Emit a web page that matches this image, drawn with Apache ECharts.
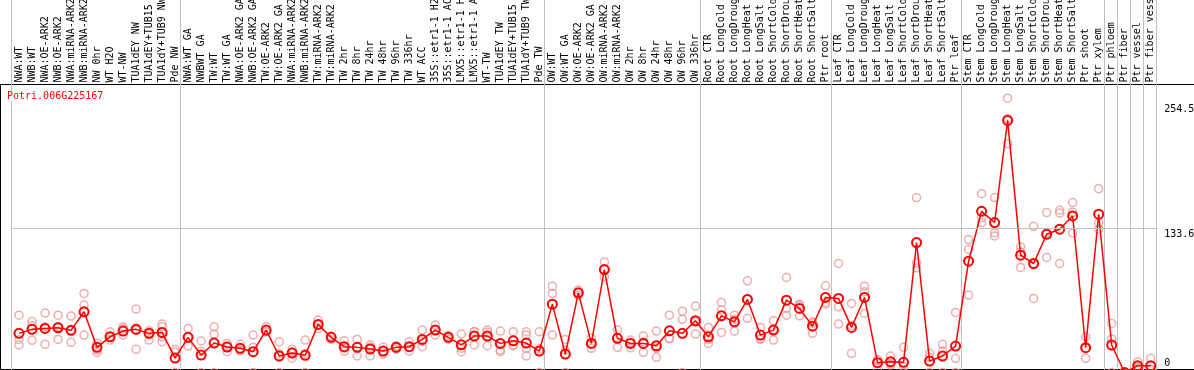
<!DOCTYPE html>
<html><head><meta charset="utf-8">
<script src="https://cdn.jsdelivr.net/npm/echarts@6/dist/echarts.min.js"></script>
<style>html,body{margin:0;padding:0;background:#fff}#c{width:1194px;height:370px}</style>
</head><body><div id="c"></div>
<script>
const chartTitle = 'Potri.006G225167';

const categories = [
  'NWA:WT','NWB:WT','NWA:OE-ARK2','NWB:OE-ARK2','NWA:miRNA-ARK2','NWB:miRNA-ARK2','NW 0hr','WT H2O','WT-NW',
  'TUA1dEY NW','TUA1dEY+TUB15 NW','TUA1dY+TUB9 NW','Pde NW',
  'NWA:WT GA','NWBWT GA','TW:WT','TW:WT GA','NWA:OE-ARK2 GA','NWB:OE-ARK2 GA','TW:OE-ARK2','TW:OE-ARK2 GA',
  'NWA:miRNA-ARK2 GA','NWB:miRNA-ARK2 GA','TW:miRNA-ARK2','TW:miRNA-ARK2 GA',
  'TW 2hr','TW 8hr','TW 24hr','TW 48hr','TW 96hr','TW 336hr','WT ACC',
  '35S::etr1-1 H2O','35S::etr1-1 ACC','LMX5::etr1-1 H2O','LMX5::etr1-1 ACC','WT-TW',
  'TUA1dEY TW','TUA1dEY+TUB15 TW','TUA1dY+TUB9 TW','Pde TW',
  'OW:WT','OW:WT GA','OW:OE-ARK2','OW:OE-ARK2 GA','OW:miRNA-ARK2','OW:miRNA-ARK2 GA',
  'OW 2hr','OW 8hr','OW 24hr','OW 48hr','OW 96hr','OW 336hr',
  'Root CTR','Root LongCold','Root LongDrought','Root LongHeat','Root LongSalt',
  'Root ShortCold','Root ShortDrought','Root ShortHeat','Root ShortSalt','Ptr root',
  'Leaf CTR','Leaf LongCold','Leaf LongDrought','Leaf LongHeat','Leaf LongSalt',
  'Leaf ShortCold','Leaf ShortDrought','Leaf ShortHeat','Leaf ShortSalt','Ptr leaf',
  'Stem CTR','Stem LongCold','Stem LongDrought','Stem LongHeat','Stem LongSalt',
  'Stem ShortCold','Stem ShortDrought','Stem ShortHeat','Stem ShortSalt','Ptr shoot','Ptr xylem',
  'Ptr phloem','Ptr fiber','Ptr vessel','Ptr fiber vessel'
];

// number of categories in each experiment group (separated by grey lines)
const groupSizes = [13, 28, 12, 10, 10, 11, 1, 1, 1, 1];

const meanValues = [
  36.4, 40.1, 41.0, 41.6, 39.2, 56.4, 23.4, 33.2, 38.5, 40.1, 36.4, 37.3, 13.5,
  32.7, 16.3, 27.4, 23.7, 22.5, 19.4, 39.4, 15.4, 18.1, 16.0, 44.7, 32.7, 24.0, 23.4, 21.9, 20.0, 23.4, 24.0, 30.8,
  39.4, 32.7, 25.8, 33.9, 33.9, 27.1, 29.5, 27.4, 20.0,
  63.5, 17.2, 74.0, 27.1, 95.6, 31.8, 27.1, 27.1, 24.9, 38.8, 36.4, 48.1,
  33.2, 52.7, 47.1, 67.9, 34.8, 39.4, 67.2, 59.5, 43.1, 69.7,
  68.8, 41.9, 69.7, 9.2, 10.1, 9.5, 120.6, 10.7, 15.4, 24.6,
  103.3, 149.6, 139.2, 233.9, 108.9, 101.2, 128.3, 133.0, 145.3, 23.1, 146.9,
  25.6, 0, 6.4, 6.4
];

const replicates = [
  [53.3,30.8,25.6],[47.5,43.4,29.9],[55.2,42.5,26.2],[53.3,42.5,30.8],[52.4,39.0,28.1],[73.4,62.6,34.8],
  [27.1,20.9,18.4],[37.9,33.0,30.2],[42.5,40.6,34.8],[58.9,39.4,21.6],[38.8,35.5,30.2],[45.0,42.5,33.2,28.6],
  [0,19.0,21.5],
  [41.0,32.7,24.6],[29.3,19.5,0],[42.5,35.7,0],[27.1,24.6,19.4],[26.2,20.4,20.9],[34.8,23.4,0],
  [42.5,37.9,37.8],[28.6,17.6,0],[21.6,19.4,13.3],[30.2,17.8,0],[48.7,44.4,41.0],[33.9,33.4,30.8],
  [29.5,22.5,20.0],[30.8,24.0,15.4],[25.6,23.4,15.4],[23.4,19.4,17.2],[25.0,23.4,21.8],[28.6,23.4,20.0],
  [39.4,29.0,24.0],[44.1,39.3,34.8],[34.5,32.7,31.0],[35.7,22.5,19.4],[37.9,38.2,25.6],[39.4,37.4,24.9],
  [38.5,20.9,19.4],[37.9,25.6,25.0],[37.9,34.8,22.5,15.4],[37.9,22.1,0],
  [80.2,73.4,34.8],[30.8,20.8,0],[76.5,74.0,71.5],[31.8,27.0,22.5],[102.7,95.3,88.8],[39.4,32.6,23.4],
  [30.2,28.0,23.1],[33.9,28.6,18.8],[38.5,22.5,14.2],[53.3,31.8,31.3],[57.0,49.4,0],[61.7,46.9,35.7],
  [41.9,30.6,27.1],[65.1,58.0,37.3],[53.3,49.5,38.5],[85.1,68.3,50.3],[41.9,31.8,30.7],[48.1,39.9,30.2],
  [88.2,59.5,53.3],[63.5,62.3,52.7],[47.1,45.8,36.4],[80.5,65.1,63.5],
  [101.2,61.0,45.0],[64.2,43.6,17.9],[80.2,74.9,54.9],[11.7,11.9,4.0],[15.4,7.9,7.0],[23.4,5.1,0],
  [162.3,101.8,97.1],[17.9,14.2,0],[26.2,20.0,0],[55.8,13.2,0],
  [123.4,114.2,71.9],[166.0,143.8,139.2],[162.3,129.5,126.8],[254.5,235.5,212.3],[116.6,111.9,97.5],
  [135.7,100.3,68.8],[148.4,129.7,106.8],[150.6,148.1,101.2],[157.7,148.7,129.5],[33.2,22.9,13.2],
  [170.6,138.8,133.0],
  [45.6,31.2,0],[0,0,0],[10.1,5.0,4.1],[13.2,3.0,3.0]
];

const dataMax = 254.5;
const yMid = 133.6;
const yMax = dataMax * 1.05;
const yLabelTop = [yMid, dataMax];
const yLabelBottom = [0];

const boundaries = [0];
groupSizes.reduce((acc, n) => { acc += n; boundaries.push(acc); return acc; }, 0);

const repPoints = [];
replicates.forEach((arr, i) => arr.forEach(v => repPoints.push([i, v])));

const FONT = '"DejaVu Sans Mono", "Liberation Mono", monospace';
const chart = echarts.init(document.getElementById('c'), null, {renderer: 'canvas'});
chart.setOption({
  animation: false,
  backgroundColor: '#fff',
  title: {
    text: chartTitle, left: 6, top: 91, padding: [0, 1, 0, 1], z: 10,
    backgroundColor: '#fff',
    textStyle: {color: '#ff0000', fontFamily: FONT, fontSize: 10, fontWeight: 'normal'}
  },
  grid: [
    {left: 12.5, right: 36.8, top: 84.5, bottom: -2.6, containLabel: false, outerBoundsMode: 'none'},
    {left: 0.5, right: -2, top: 84.5, bottom: 0.5, show: true, borderColor: '#000', borderWidth: 1, backgroundColor: 'transparent', z: 0, outerBoundsMode: 'none'}
  ],
  xAxis: [
    {
      type: 'category', data: categories, position: 'top', gridIndex: 0,
      boundaryGap: true,
      axisLine: {show: false}, axisTick: {show: false}, splitLine: {show: false},
      axisLabel: {interval: 0, rotate: 90, align: 'left', verticalAlign: 'middle', margin: 2, color: '#000', fontFamily: FONT, fontSize: 10, hideOverlap: false}
    },
    {type: 'value', gridIndex: 1, show: false}
  ],
  yAxis: [
    {
      type: 'value', min: 0, max: yMax, position: 'right', gridIndex: 0,
      axisLine: {show: false}, axisTick: {show: false}, splitLine: {show: false},
      axisLabel: {
        customValues: yLabelTop, margin: 7, verticalAlign: 'top', color: '#000', fontFamily: FONT, fontSize: 10,
        formatter: v => v === dataMax ? '{m|' + v + '}' : '{n|' + v + '}',
        rich: {m: {padding: [6.5, 0, 0, 0], fontFamily: FONT, fontSize: 10, color: '#000'}, n: {padding: [0.5, 0, 0, 0], fontFamily: FONT, fontSize: 10, color: '#000'}}
      }
    },
    {
      type: 'value', min: 0, max: yMax, position: 'right', gridIndex: 0,
      axisLine: {show: false}, axisTick: {show: false}, splitLine: {show: false},
      axisLabel: {
        customValues: yLabelBottom, margin: 7, verticalAlign: 'bottom', color: '#000', fontFamily: FONT, fontSize: 10,
        formatter: v => '{z|' + v + '}',
        rich: {z: {padding: [0, 0, 4.5, 0], fontFamily: FONT, fontSize: 10, color: '#000'}}
      }
    },
    {type: 'value', gridIndex: 1, show: false}
  ],
  series: [
    {
      type: 'custom', xAxisIndex: 0, yAxisIndex: 0, clip: false, silent: true, z: 1,
      data: boundaries.map(b => [b, 0]),
      encode: {x: 0, y: 1},
      renderItem: (params, api) => {
        const b = api.value(0);
        const band = api.size([1, 0])[0];
        const p0 = api.coord([0, 0]);
        const x = Math.floor(p0[0] - band / 2 + b * band) - 0.5;
        return {type: 'line', shape: {x1: x, y1: 0, x2: x, y2: p0[1]}, style: {stroke: '#c0c0c0', lineWidth: 1}};
      }
    },
    {
      type: 'scatter', xAxisIndex: 0, yAxisIndex: 0, data: repPoints, z: 3,
      symbol: 'circle', symbolSize: 8,
      itemStyle: {color: 'rgba(255,255,255,0)', borderColor: '#e89a9a', borderWidth: 1.5}
    },
    {
      type: 'line', xAxisIndex: 0, yAxisIndex: 0, data: meanValues, z: 4,
      showAllSymbol: true, symbol: 'circle', symbolSize: 9,
      lineStyle: {color: '#ff0000', width: 1.5},
      itemStyle: {color: 'rgba(255,255,255,0)', borderColor: '#ff0000', borderWidth: 2},
      markLine: {
        silent: true, symbol: 'none', label: {show: false},
        lineStyle: {color: '#c0c0c0', type: 'solid', width: 1},
        data: [{yAxis: yMid}]
      }
    }
  ]
});
</script></body></html>
